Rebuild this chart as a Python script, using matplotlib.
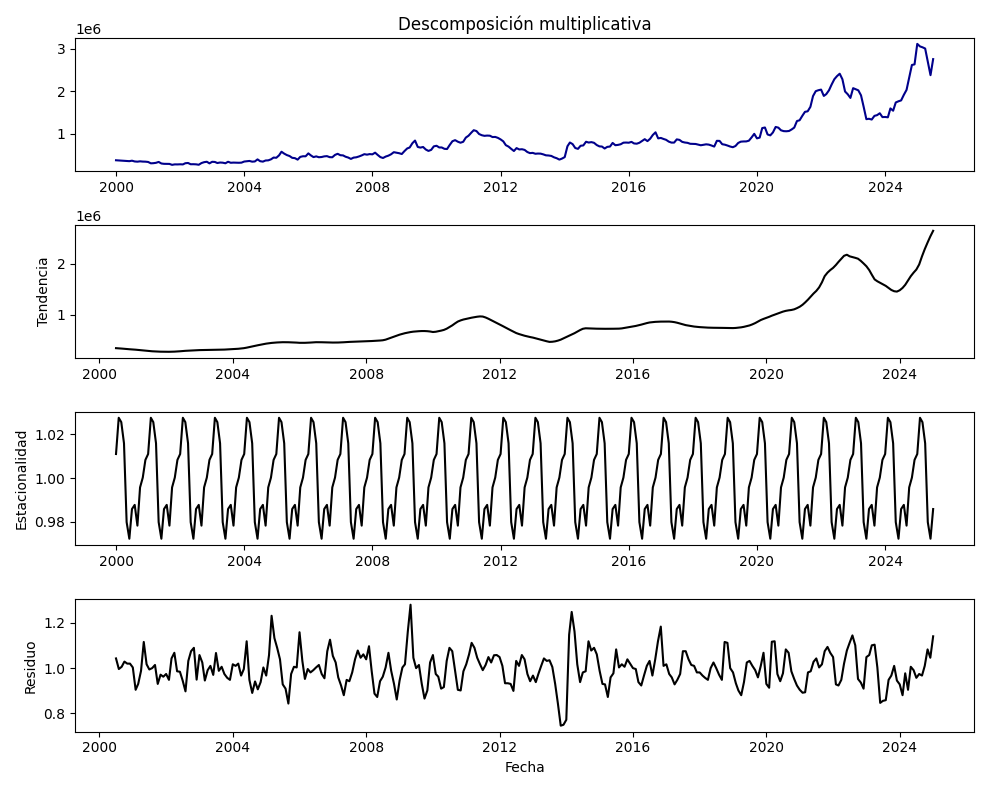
import numpy as np
import pandas as pd
import matplotlib
matplotlib.use('Agg')
import matplotlib.pyplot as plt

# Serie observada (miles), mensual ene-2000 .. jul-2025
observado_k = [
    368, 364, 362, 358, 350, 347, 358, 340, 335, 343, 337, 335,        # 2000
    328, 296, 299, 308, 329, 292, 284, 284, 282, 260, 271, 270,        # 2001
    273, 270, 298, 304, 274, 275, 272, 262, 302, 323, 333, 295,        # 2002
    332, 328, 303, 315, 311, 297, 333, 309, 313, 310, 309, 312,        # 2003
    338, 345, 352, 335, 340, 389, 346, 336, 363, 366, 390, 432,        # 2004
    427, 484, 570, 525, 491, 468, 426, 418, 383, 448, 463, 462,        # 2005
    531, 480, 443, 460, 440, 445, 460, 466, 442, 439, 495, 521,        # 2006
    488, 483, 452, 432, 400, 431, 438, 458, 483, 512, 501, 514,        # 2007
    508, 548, 495, 443, 422, 456, 477, 510, 559, 546, 535, 516,        # 2008
    586, 648, 670, 772, 834, 683, 668, 682, 622, 589, 614, 697,        # 2009
    711, 671, 671, 639, 634, 732, 818, 844, 807, 783, 805, 904,        # 2010
    949, 1020, 1079, 1059, 989, 960, 946, 952, 949, 917, 920, 898,     # 2011
    862, 815, 725, 691, 638, 587, 656, 624, 629, 613, 563, 537,        # 2012
    543, 522, 527, 525, 508, 485, 481, 471, 438, 417, 384, 408,        # 2013
    443, 699, 788, 750, 658, 638, 711, 719, 806, 787, 797, 781,        # 2014
    728, 696, 693, 646, 685, 692, 778, 724, 732, 747, 784, 787,        # 2015
    783, 803, 766, 760, 782, 825, 867, 821, 878, 966, 1029, 886,       # 2016
    896, 871, 852, 809, 786, 786, 862, 850, 803, 788, 780, 758,        # 2017
    755, 753, 740, 723, 734, 745, 738, 717, 692, 828, 826, 748,        # 2018
    736, 715, 693, 677, 705, 777, 808, 813, 814, 831, 909, 993,        # 2019
    886, 904, 1129, 1143, 978, 957, 1026, 1156, 1139, 1077, 1057, 1054,  # 2020
    1061, 1099, 1141, 1296, 1314, 1419, 1513, 1526, 1631, 1886, 2002, 2024,  # 2021
    2039, 1889, 1932, 2023, 2159, 2285, 2357, 2415, 2283, 1994, 1928, 1842,  # 2022
    2073, 2045, 2022, 1903, 1632, 1340, 1349, 1331, 1418, 1435, 1480, 1389,  # 2023
    1392, 1384, 1594, 1540, 1735, 1763, 1783, 1915, 2033, 2324, 2621, 2636,  # 2024
    3120, 3060, 3040, 3010, 2700, 2380, 2760,                              # 2025
]

# Tendencia (miles), jul-2000 .. ene-2025
tendencia_k = [
    348, 345, 340, 335, 330, 326,
    323, 318, 313, 307, 301, 295, 290, 287, 284, 281, 279, 278,
    277, 277, 278, 280, 283, 287, 292, 296, 299, 302, 305, 308,
    310, 311, 312, 313, 314, 315, 316, 317, 318, 320, 323, 326,
    329, 332, 336, 341, 348, 358, 370, 382, 394, 405, 416, 427,
    437, 445, 451, 456, 460, 463, 465, 465, 464, 462, 460, 457,
    453, 452, 453, 455, 458, 462, 465, 465, 464, 462, 460, 459,
    458, 458, 459, 461, 464, 468, 471, 473, 475, 477, 479, 481,
    484, 486, 488, 491, 494, 498, 503, 515, 535, 555, 575, 595,
    613, 628, 642, 654, 664, 672, 677, 681, 684, 684, 681, 675,
    665, 670, 680, 692, 706, 730, 761, 795, 835, 870, 893, 910,
    923, 935, 946, 956, 965, 971, 968, 950, 925, 898, 870, 842,
    813, 785, 757, 729, 700, 672, 645, 625, 608, 592, 578, 566,
    555, 541, 527, 512, 497, 483, 471, 474, 482, 496, 515, 540,
    568, 590, 615, 642, 672, 703, 728, 738, 737, 734, 731, 730,
    729, 728, 728, 729, 729, 729, 729, 731, 736, 745, 755, 765,
    774, 784, 796, 810, 825, 840, 852, 859, 864, 867, 869, 870,
    871, 870, 866, 858, 846, 830, 813, 800, 790, 780, 772, 766,
    761, 757, 754, 751, 749, 748, 748, 747, 746, 745, 743, 742,
    742, 745, 750, 757, 767, 780, 794, 815, 840, 870, 900, 922,
    942, 963, 985, 1005, 1025, 1045, 1065, 1080, 1090, 1097, 1110, 1133,
    1161, 1200, 1245, 1300, 1360, 1420, 1471, 1540, 1640, 1761, 1830, 1880,
    1923, 1980, 2040, 2100, 2160, 2181, 2150, 2135, 2120, 2103, 2060, 2010,
    1955, 1880, 1790, 1697, 1660, 1630, 1600, 1570, 1530, 1490, 1465, 1458,
    1484, 1530, 1590, 1677, 1760, 1830, 1890, 1990, 2150, 2290, 2420, 2540,
    2650,
]

# Factores estacionales ene..dic
estacional_mes = [1.011, 1.0276, 1.0256, 1.0159, 0.9798, 0.9722,
                  0.9858, 0.9877, 0.9782, 0.9957, 1.0002, 1.0083]

# Residuo, jul-2000 .. ene-2025
residuo = [
    1.043, 0.996, 1.006, 1.029, 1.020, 1.020,
    1.003, 0.904, 0.930, 0.988, 1.116, 1.017, 0.994, 1.000, 1.014, 0.930, 0.971, 0.962,
    0.974, 0.948, 1.043, 1.068, 0.986, 0.984, 0.945, 0.897, 1.032, 1.075, 1.090, 0.949,
    1.058, 1.025, 0.945, 0.991, 1.010, 0.970, 1.067, 0.988, 1.006, 0.974, 0.957, 0.948,
    1.017, 1.010, 1.020, 0.967, 0.996, 1.119, 0.948, 0.890, 0.941, 0.906, 0.938, 1.003,
    0.967, 1.058, 1.232, 1.133, 1.090, 1.039, 0.928, 0.909, 0.843, 0.974, 1.006, 1.003,
    1.159, 1.032, 0.952, 0.996, 0.981, 0.991, 1.003, 1.014, 0.974, 0.955, 1.075, 1.126,
    1.054, 1.025, 0.959, 0.923, 0.880, 0.948, 0.942, 0.981, 1.039, 1.078, 1.046, 1.061,
    1.039, 1.097, 0.988, 0.887, 0.872, 0.942, 0.962, 1.003, 1.068, 0.988, 0.930, 0.861,
    0.945, 1.003, 1.017, 1.162, 1.281, 1.046, 1.000, 1.014, 0.930, 0.865, 0.901, 1.025,
    1.058, 0.974, 0.962, 0.909, 0.916, 1.032, 1.090, 1.075, 0.988, 0.904, 0.901, 0.986,
    1.017, 1.061, 1.112, 1.090, 1.046, 1.017, 0.991, 1.014, 1.049, 1.025, 1.057, 1.058,
    1.049, 1.010, 0.933, 0.933, 0.930, 0.899, 1.032, 1.010, 1.058, 1.039, 0.974, 0.942,
    0.967, 0.938, 0.974, 1.010, 1.043, 1.032, 1.035, 1.005, 0.930, 0.843, 0.745, 0.749,
    0.771, 1.148, 1.249, 1.162, 1.017, 0.938, 0.981, 0.986, 1.119, 1.078, 1.090, 1.061,
    0.988, 0.930, 0.928, 0.872, 0.959, 0.977, 1.083, 1.003, 1.017, 1.006, 1.039, 1.020,
    1.000, 0.996, 0.938, 0.923, 0.967, 1.010, 1.032, 0.967, 1.039, 1.119, 1.184, 1.010,
    1.017, 0.974, 0.959, 0.928, 0.948, 0.974, 1.075, 1.075, 1.039, 1.014, 1.010, 0.981,
    0.981, 0.967, 0.957, 0.948, 1.000, 1.025, 1.000, 0.971, 0.948, 1.116, 1.112, 1.000,
    0.981, 0.933, 0.901, 0.880, 0.938, 1.025, 1.032, 1.010, 0.991, 0.959, 1.010, 1.068,
    0.930, 0.913, 1.117, 1.119, 0.974, 0.942, 0.977, 1.083, 1.068, 0.986, 0.952, 0.923,
    0.904, 0.891, 0.893, 0.981, 0.986, 1.028, 1.043, 1.003, 1.017, 1.075, 1.094, 1.068,
    1.049, 0.928, 0.923, 0.948, 1.020, 1.078, 1.112, 1.145, 1.101, 0.952, 0.936, 0.909,
    1.049, 1.058, 1.101, 1.104, 1.003, 0.846, 0.855, 0.858, 0.948, 0.967, 1.010, 0.945,
    0.928, 0.880, 0.977, 0.904, 1.006, 0.991, 0.957, 0.974, 0.967, 1.010, 1.083, 1.046,
    1.141,
]

fechas = pd.date_range('2000-01-01', periods=len(observado_k), freq='MS')
fechas_tend = fechas[6:6 + len(tendencia_k)]

observado = np.array(observado_k) * 1000
tendencia = np.array(tendencia_k) * 1000
# el patron estacional se repite cada año
estacional = np.array([estacional_mes[d.month - 1] for d in fechas])

fig, axes = plt.subplots(4, 1, figsize=(9.89, 7.9), dpi=100)

axes[0].plot(fechas, observado, color='darkblue')
axes[0].set_title('Descomposición multiplicativa')

axes[1].plot(fechas_tend, tendencia, color='black')
axes[1].set_ylabel('Tendencia')

axes[2].plot(fechas, estacional, color='black')
axes[2].set_ylabel('Estacionalidad')

axes[3].plot(fechas_tend, residuo, color='black')
axes[3].set_ylabel('Residuo')
axes[3].set_xlabel('Fecha')

plt.tight_layout()
plt.savefig('out.png')
plt.close()
